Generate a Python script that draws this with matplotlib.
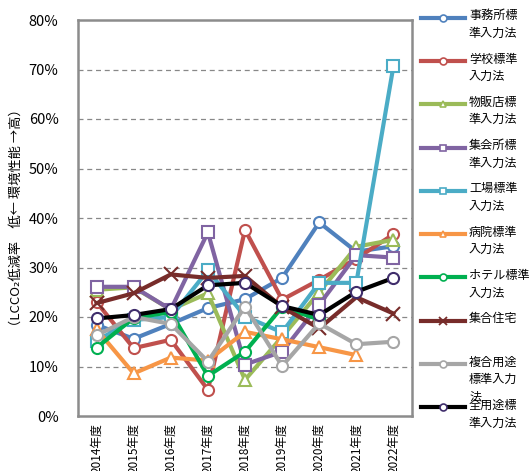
import matplotlib
matplotlib.use("Agg")
from matplotlib import pyplot as plt
from matplotlib.lines import Line2D
import numpy as np

plt.rcParams['font.family'] = ['Noto Sans CJK JP', 'DejaVu Sans']

# data (LCCO2 reduction rate, %)
years = ['2014年度', '2015年度', '2016年度', '2017年度', '2018年度',
         '2019年度', '2020年度', '2021年度', '2022年度']
nan = np.nan
office = [18.4, 15.6, 18.6, 21.8, 23.6, 27.9, 39.1, 33.2, 34.3]
school = [23.0, 13.7, 15.4, 5.3, 37.6, 23.5, 27.5, 31.8, 36.7]
retail = [25.5, 26.0, 21.5, 24.8, 7.3, 16.0, 25.0, 34.2, 35.6]
assembly = [26.1, 26.1, 21.5, 37.1, 10.4, 13.0, 22.5, 32.5, 32.0]
factory = [15.2, 19.4, 20.0, 29.4, 20.1, 16.9, 26.9, 26.9, 70.7]
hospital = [17.5, 8.6, 11.8, 11.2, 17.0, 15.5, 13.9, 12.3, nan]
hotel = [13.8, 19.8, 21.0, 8.1, 13.0, 22.0, 19.5, nan, nan]
apartment = [22.8, 24.8, 28.6, 27.9, 28.3, 22.0, 17.7, 24.0, 20.7]
mixed = [16.3, 20.0, 18.6, 11.0, 22.1, 10.1, 18.7, 14.5, 15.0]
all_use = [19.7, 20.4, 21.6, 26.4, 26.9, 22.2, 20.4, 25.1, 27.9]

series = [
    ('事務所標\n準入力法', office, '#4F81BD', 'o', '#4F81BD'),
    ('学校標準\n入力法', school, '#C0504D', 'o', '#C0504D'),
    ('物販店標\n準入力法', retail, '#9BBB59', '^', '#9BBB59'),
    ('集会所標\n準入力法', assembly, '#8064A2', 's', '#8064A2'),
    ('工場標準\n入力法', factory, '#4BACC6', 's', '#4BACC6'),
    ('病院標準\n入力法', hospital, '#F79646', '^', '#F79646'),
    ('ホテル標準\n入力法', hotel, '#00B050', 'o', '#00B050'),
    ('集合住宅', apartment, '#772C2A', 'x', '#772C2A'),
    ('複合用途\n標準入力\n法', mixed, '#A6A6A6', 'o', '#A6A6A6'),
    ('全用途標\n準入力法', all_use, '#000000', 'o', '#3F2D6B'),
]

W, H = 531, 471
fig = plt.figure(figsize=(W / 100, H / 100), dpi=100)
ax = fig.add_axes([78 / W, 1 - 416 / H, 334 / W, 396 / H])

x = np.arange(len(years))
for label, vals, col, mk, mec in series:
    if mk == 'x':
        ax.plot(x, vals, color=col, lw=3, marker=mk, ms=10, mew=1.5,
                mec=mec)
    else:
        ax.plot(x, vals, color=col, lw=3, marker=mk, ms=8, mfc='white',
                mew=1.5, mec=mec)

ax.set_xlim(-0.5, len(years) - 0.5)
ax.set_ylim(0, 80)
ax.set_yticks(np.arange(0, 81, 10))
ax.set_yticklabels([f'{v}%' for v in range(0, 81, 10)], fontsize=10.5)
ax.set_xticks(x)
ax.set_xticklabels(years, rotation=90, fontsize=8.5)
ax.tick_params(axis='y', length=0, pad=14)
ax.tick_params(axis='x', length=0, pad=5)
for v in range(10, 80, 10):
    ax.axhline(v, color='#888888', lw=0.9, ls=(0, (4, 3)), zorder=0)
for s in ax.spines.values():
    s.set_color('#8C8C8C')
    s.set_linewidth(1.8)

ax.set_ylabel('（LCCO₂低減率　低← 環境性能 →高）', fontsize=9.5, labelpad=4)

# legend drawn by hand so that each handle sits on the first text line
for i, (label, vals, col, mk, mec) in enumerate(series):
    yp = 17.7 + 43.3 * i
    yf = 1 - yp / H
    fig.add_artist(Line2D([421 / W, 465 / W], [yf, yf], color=col, lw=3,
                          transform=fig.transFigure))
    if mk == 'x':
        fig.add_artist(Line2D([443 / W], [yf], color=col, marker=mk, ms=6,
                              mew=1.3, mec=mec, transform=fig.transFigure))
    else:
        fig.add_artist(Line2D([443 / W], [yf], color=col, marker=mk, ms=5,
                              mfc='white', mew=1.2, mec=mec,
                              transform=fig.transFigure))
    fig.text(469 / W, yf + 8.5 / H, label, fontsize=8.7, va='top', ha='left',
             linespacing=1.45)

fig.savefig('out.png', dpi=100)
